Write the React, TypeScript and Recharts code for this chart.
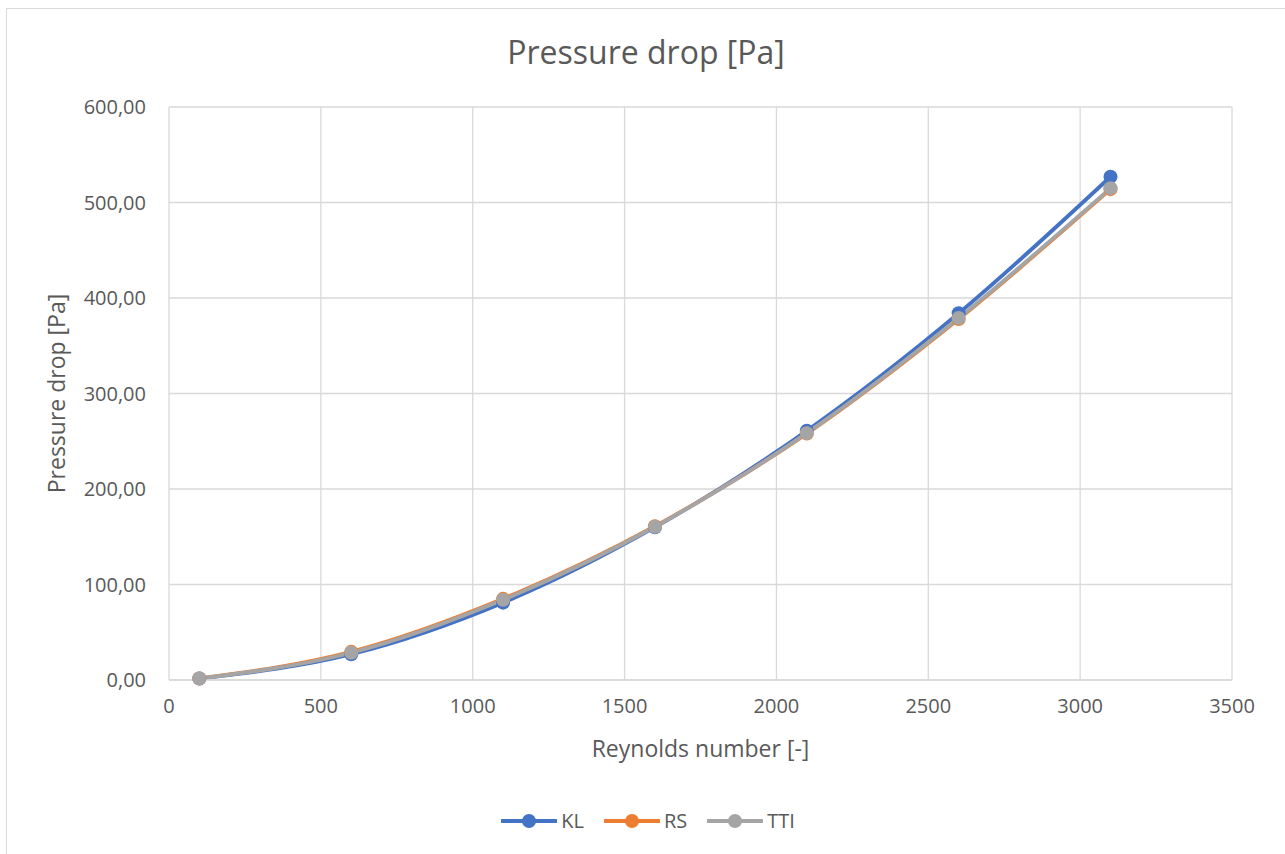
import React from 'react';
import { LineChart, Line, XAxis, YAxis, CartesianGrid } from 'recharts';

const reynolds = [100, 600, 1100, 1600, 2100, 2600, 3100];
const klValues = [1.5, 27, 81, 160, 261, 384, 527];
const rsValues = [1.7, 29.5, 85, 161, 258, 378, 514];
const ttiValues = [1.5, 28.5, 84, 160.5, 258.5, 379, 515];
const xTicks = [0, 500, 1000, 1500, 2000, 2500, 3000, 3500];
const yTicks = [0, 100, 200, 300, 400, 500, 600];

const seriesNames = ['KL', 'RS', 'TTI'];
const seriesColors = ['#4472C4', '#ED7D31', '#A5A5A5'];

const data = reynolds.map((re, i) => ({
    re,
    KL: klValues[i],
    RS: rsValues[i],
    TTI: ttiValues[i],
}));

const FONT = '"Open Sans", sans-serif';
const textColor = '#595959';
const gridColor = '#d9d9d9';

const formatComma = (v: number) => v.toFixed(2).replace('.', ',');

const LegendRow: React.FC = () => (
    <div
        style={{
            position: 'absolute',
            top: 798,
            left: 2,
            width: 1278,
            display: 'flex',
            justifyContent: 'center',
            gap: 20,
            fontFamily: FONT,
            fontSize: 20,
            color: textColor,
        }}
    >
        {seriesNames.map((name, i) => (
            <div key={name} style={{ display: 'flex', alignItems: 'center', gap: 4 }}>
                <svg width={56} height={24}>
                    <line x1={1} y1={12} x2={55} y2={12} stroke={seriesColors[i]} strokeWidth={4} strokeLinecap="round" />
                    <circle cx={28} cy={12} r={7} fill={seriesColors[i]} />
                </svg>
                <span>{name}</span>
            </div>
        ))}
    </div>
);

const App: React.FC = () => {
    return (
        <div
            style={{
                position: 'fixed',
                left: 6,
                top: 8,
                width: 1279,
                height: 846,
                borderLeft: `1px solid ${gridColor}`,
                borderTop: `1px solid ${gridColor}`,
                background: '#fff',
                boxSizing: 'border-box',
            }}
        >
            <div
                style={{
                    position: 'absolute',
                    top: 22,
                    left: 0,
                    width: 1278,
                    textAlign: 'center',
                    fontFamily: FONT,
                    fontSize: 32,
                    color: textColor,
                    lineHeight: '42px',
                }}
            >
                Pressure drop [Pa]
            </div>
            <LineChart
                width={1278}
                height={845}
                data={data}
                margin={{ top: 98, right: 53, left: 0, bottom: 114 }}
            >
                <CartesianGrid stroke={gridColor} strokeWidth={1.3} />
                <XAxis
                    dataKey="re"
                    type="number"
                    domain={[0, 3500]}
                    ticks={xTicks}
                    height={60}
                    axisLine={{ stroke: gridColor, strokeWidth: 1.3 }}
                    tickLine={false}
                    tickMargin={13}
                    tick={{ fill: textColor, fontFamily: FONT, fontSize: 20 }}
                    label={{
                        value: 'Reynolds number [-]',
                        position: 'bottom',
                        offset: 1,
                        fill: textColor,
                        fontFamily: FONT,
                        fontSize: 23,
                    }}
                />
                <YAxis
                    type="number"
                    domain={[0, 600]}
                    ticks={yTicks}
                    width={162}
                    axisLine={false}
                    tickLine={false}
                    tickMargin={17}
                    tickFormatter={formatComma}
                    tick={{ fill: textColor, fontFamily: FONT, fontSize: 20 }}
                    label={{
                        value: 'Pressure drop [Pa]',
                        angle: -90,
                        position: 'insideLeft',
                        offset: 50,
                        fill: textColor,
                        fontFamily: FONT,
                        fontSize: 23,
                        style: { textAnchor: 'middle' },
                    }}
                />
                {seriesNames.map((name, i) => (
                    <Line
                        key={name}
                        type="monotone"
                        dataKey={name}
                        stroke={seriesColors[i]}
                        strokeWidth={3.8}
                        dot={{ r: 7, fill: seriesColors[i], stroke: seriesColors[i], strokeWidth: 0 }}
                        activeDot={false}
                        isAnimationActive={false}
                    />
                ))}
            </LineChart>
            <LegendRow />
        </div>
    );
};

export default App;
